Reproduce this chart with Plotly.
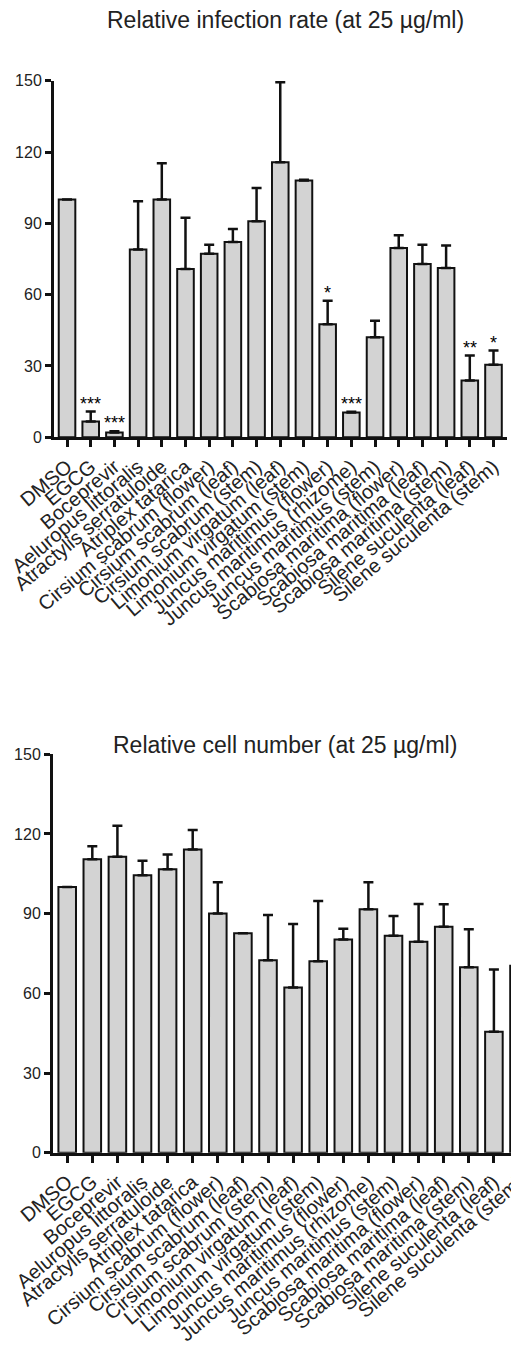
import plotly.graph_objects as go

categories = [
    "DMSO", "EGCG", "Boceprevir", "Aeluropus littoralis", "Atractylis serratuloide",
    "Atriplex tatarica", "Cirsium scabrum (flower)", "Cirsium scabrum (leaf)",
    "Cirsium scabrum (stem)", "Limonium virgatum (leaf)", "Limonium virgatum (stem)",
    "Juncus maritimus (flower)", "Juncus maritimus (rhizome)", "Juncus maritimus (stem)",
    "Scabiosa maritima (flower)", "Scabiosa maritima (leaf)", "Scabiosa maritima (stem)",
    "Silene suculenta (leaf)", "Silene suculenta (stem)",
]

infection_rate = [100, 6.6, 2.0, 79, 100, 70.8, 77.2, 82.2, 90.9, 115.7, 108,
                  47.6, 10.4, 42.1, 79.6, 72.9, 71.2, 23.9, 30.5]
infection_err = [0, 4.2, 0.5, 20.3, 15.3, 21.5, 3.8, 5.4, 14.0, 33.7, 0.3,
                 9.8, 0.3, 6.9, 5.4, 8.1, 9.5, 10.5, 6.0]
infection_sig = ["", "***", "***", "", "", "", "", "", "", "", "",
                 "*", "***", "", "", "", "", "**", "*"]

cell_number = [100, 110.5, 111.4, 104.5, 106.7, 114.2, 90.1, 82.6, 72.5, 62.2, 72.1,
               80.3, 91.7, 81.7, 79.4, 85.1, 69.8, 45.5, 70.4]
cell_err = [0, 4.9, 11.7, 5.4, 5.6, 7.3, 11.7, 0, 17.0, 23.9, 22.7,
            4.0, 10.1, 7.4, 14.2, 8.4, 14.3, 23.5, 4.0]

y_ticks = [0, 30, 60, 90, 120, 150]
title_top = "Relative infection rate (at 25 µg/ml)"
title_bottom = "Relative cell number (at 25 µg/ml)"

# the page body has an 8px default margin, so the figure is 8px smaller
OFF = 8
W, H = 519 - OFF, 1349 - OFF
FONT = "Liberation Sans, Arial, sans-serif"
BAR_FILL = "#d3d3d3"
INK = "#111111"

fig = go.Figure()

def bar(vals, errs, xa, ya):
    return go.Bar(
        x=categories, y=vals, xaxis=xa, yaxis=ya, width=0.7,
        marker=dict(color=BAR_FILL, line=dict(color=INK, width=2)),
        error_y=dict(type="data", symmetric=False, array=errs,
                     arrayminus=[0] * len(errs), color=INK, thickness=2.5, width=5),
        showlegend=False, hoverinfo="x+y",
    )

fig.add_trace(bar(infection_rate, infection_err, "x", "y"))
fig.add_trace(bar(cell_number, cell_err, "x2", "y2"))

def px_(x):
    return (x - OFF) / W

def py(y):
    return 1 - (y - OFF) / H

xcommon = dict(
    type="category", showline=True, linecolor=INK, linewidth=3,
    tickmode="linear", tick0=0, dtick=1, automargin=False,
    ticks="outside", ticklen=7, tickwidth=2.5, tickcolor=INK,
    tickangle=-40, tickfont=dict(family=FONT, size=20, color="#222"),
    showgrid=False, zeroline=False, fixedrange=True,
)
ycommon = dict(
    range=[0, 150], tickmode="array", tickvals=y_ticks, automargin=False,
    showline=True, linecolor=INK, linewidth=3,
    ticks="outside", ticklen=6, tickwidth=2.5, tickcolor=INK,
    tickfont=dict(family=FONT, size=16, color="#222"),
    showgrid=False, zeroline=False, fixedrange=True,
)

fig.update_layout(
    template="none",
    width=W, height=H, margin=dict(l=0, r=0, t=0, b=0, pad=0),
    paper_bgcolor="white", plot_bgcolor="white", bargap=0.3,
    xaxis=dict(xcommon, domain=[px_(54), px_(507)], range=[-0.55, 18.57], anchor="y"),
    yaxis=dict(ycommon, domain=[py(437.3), py(80.7)], anchor="x"),
    xaxis2=dict(xcommon, domain=[px_(53), 1.0], range=[-0.566, 18.0], anchor="y2"),
    yaxis2=dict(ycommon, domain=[py(1152.7), py(754.3)], anchor="x2"),
)

annotations = [
    dict(text=title_top, xref="paper", yref="paper", x=px_(285), y=py(20),
         xanchor="center", yanchor="middle", showarrow=False,
         font=dict(family=FONT, size=23, color="#222")),
    dict(text=title_bottom, xref="paper", yref="paper", x=px_(285), y=py(745),
         xanchor="center", yanchor="middle", showarrow=False,
         font=dict(family=FONT, size=23, color="#222")),
]
for c, v, e, s in zip(categories, infection_rate, infection_err, infection_sig):
    if s:
        annotations.append(dict(text=s, xref="x", yref="y", x=c, y=v + e,
                                xanchor="center", yanchor="bottom", yshift=-4,
                                showarrow=False,
                                font=dict(family=FONT, size=18, color="#000")))
fig.update_layout(annotations=annotations)

fig.write_html("out.html")
